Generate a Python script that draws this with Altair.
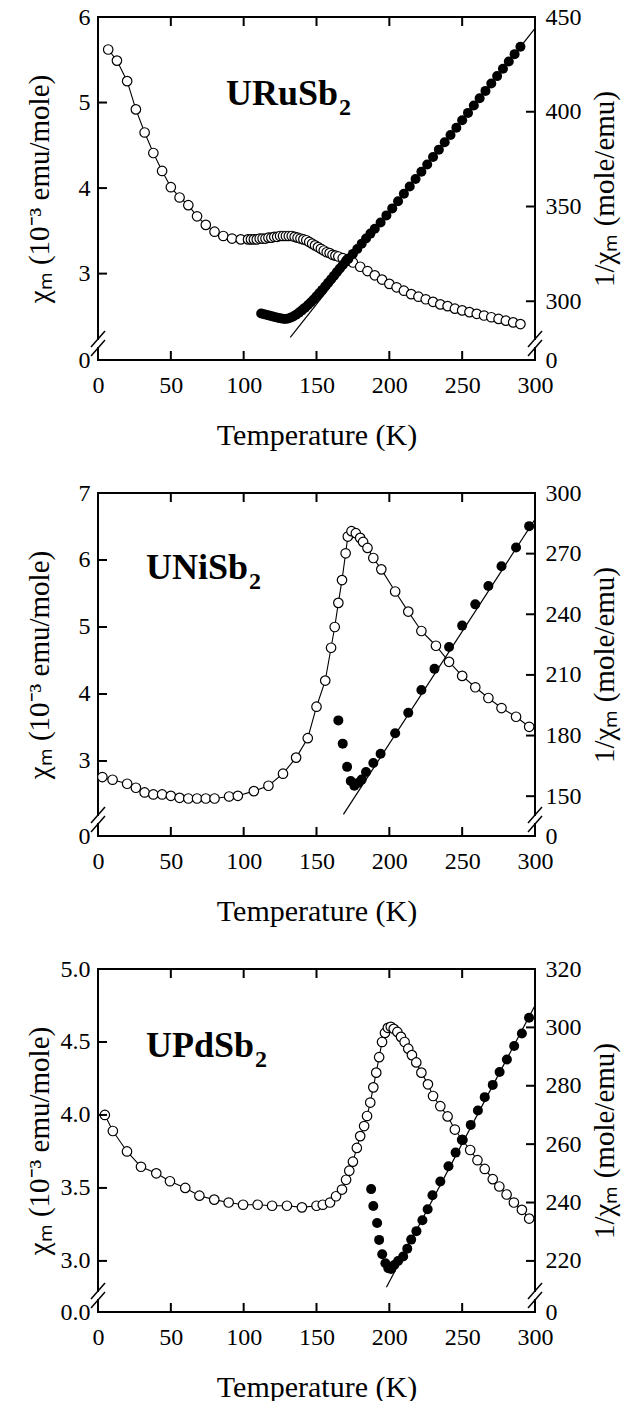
import altair as alt
import pandas as pd

W, H = 437, 343
FONT = "Liberation Serif, Times New Roman, serif"

T_TICKS = [0, 50, 100, 150, 200, 250, 300]
INNER_T = [50, 100, 150, 200, 250]

# ---------------- Panel 1: URuSb2 ----------------
p1_open_T = [7, 13, 20, 26, 32, 38, 44, 50, 56, 62, 68, 74, 80, 86, 92, 98, 103, 105, 107, 109,
             111, 113, 115, 117, 119, 121, 123, 125, 127, 129, 131, 133, 135, 137, 139, 141, 143, 145, 147, 149,
             151, 153, 155, 157, 159, 161, 163, 165, 168, 171, 175, 180, 185, 190, 195, 200, 205, 210, 215, 220,
             225, 230, 235, 240, 245, 250, 255, 260, 265, 270, 275, 280, 285, 290]
p1_open_chi = [5.62, 5.49, 5.25, 4.92, 4.65, 4.41, 4.20, 4.01, 3.89, 3.80, 3.67, 3.57, 3.49, 3.44, 3.41, 3.40, 3.40, 3.40, 3.40, 3.40,
               3.41, 3.41, 3.41, 3.42, 3.42, 3.43, 3.43, 3.44, 3.44, 3.44, 3.44, 3.44, 3.43, 3.42, 3.41, 3.40, 3.39, 3.37, 3.35, 3.33,
               3.31, 3.29, 3.27, 3.25, 3.24, 3.22, 3.21, 3.20, 3.18, 3.16, 3.13, 3.08, 3.03, 2.98, 2.93, 2.88, 2.84, 2.80, 2.76, 2.73,
               2.70, 2.67, 2.64, 2.62, 2.59, 2.57, 2.55, 2.53, 2.51, 2.49, 2.47, 2.45, 2.43, 2.41]
p1_fill_T = [112, 114, 116, 118, 120, 122, 124, 126, 128, 130, 132, 134, 136, 138, 140, 142, 144, 146, 148, 150,
             152, 154, 156, 158, 160, 162, 164, 166, 168, 170, 172, 175, 178, 181, 184, 187, 190, 194, 198, 202,
             206, 210, 214, 218, 222, 226, 230, 234, 238, 242, 246, 250, 254, 258, 262, 266, 270, 274, 278, 282, 286, 290]
p1_fill_inv = [293.5, 293.2, 292.8, 292.4, 292.0, 291.6, 291.2, 290.9, 290.7, 290.8, 291.3, 292.0, 292.9, 294.0, 295.2, 296.5, 297.9, 299.3, 300.9, 302.6,
               304.3, 306.0, 307.9, 309.8, 311.6, 313.5, 315.4, 317.3, 319.1, 320.8, 322.5, 325.0, 327.6, 330.3, 333.1, 335.7, 338.3, 341.6, 345.3, 349.0,
               352.8, 356.7, 360.6, 364.5, 368.3, 372.2, 376.1, 380.0, 383.9, 387.7, 391.6, 395.5, 399.4, 403.3, 407.1, 411.0, 414.9, 418.8, 422.7, 426.5, 430.4, 434.3]
p1_fit_T = [132, 300]
p1_fit_inv = [281, 444]
p1_left_domain = [1.99, 6]
p1_left_ticks = [3, 4, 5, 6]
p1_right_domain = [269, 450]
p1_right_ticks = [300, 350, 400, 450]

# ---------------- Panel 2: UNiSb2 ----------------
p2_open_T = [3, 10, 20, 26, 32, 38, 44, 50, 56, 62, 68, 74, 80, 90, 96, 107, 117, 127, 136, 144,
             150, 156, 160, 162.5, 165, 167.5, 170, 171.5, 174, 177, 180, 182, 185, 189, 194.5, 204, 213, 222, 232, 241,
             250, 259, 268, 277, 287, 296]
p2_open_chi = [2.76, 2.72, 2.66, 2.60, 2.53, 2.50, 2.50, 2.48, 2.45, 2.44, 2.44, 2.44, 2.44, 2.47, 2.48, 2.55, 2.63, 2.81, 3.05, 3.34,
               3.81, 4.20, 4.69, 5.00, 5.36, 5.70, 6.10, 6.35, 6.43, 6.40, 6.33, 6.27, 6.18, 6.03, 5.86, 5.53, 5.23, 4.94, 4.72, 4.48,
               4.27, 4.10, 3.94, 3.79, 3.66, 3.51]
p2_fill_T = [165, 168, 171, 173.5, 176, 178.5, 181, 184, 189, 194, 204, 213, 222, 231, 241, 250, 259, 268, 277, 287, 296]
p2_fill_inv = [187.5, 176.0, 164.5, 157.5, 155.2, 156.5, 158.2, 162.0, 166.4, 171.0, 181.1, 191.3, 202.5, 213.0, 223.8, 234.4, 244.9, 254.0, 263.8, 273.0, 283.6]
p2_fit_T = [168.5, 300]
p2_fit_inv = [141, 287]
p2_left_domain = [1.88, 7]
p2_left_ticks = [3, 4, 5, 6, 7]
p2_right_domain = [130.3, 300]
p2_right_ticks = [150, 180, 210, 240, 270, 300]

# ---------------- Panel 3: UPdSb2 ----------------
p3_open_T = [4.7, 10.2, 19.9, 29.5, 40, 49.4, 59.9, 69.6, 79.8, 89.7, 99.6, 109.6, 119.5, 129.7, 140, 150, 154.3, 159.3, 163.4, 167.5,
             170.3, 172.5, 175, 177.7, 180, 182.7, 184.7, 186.9, 189, 191, 193, 195, 197, 199, 201, 203, 205.5, 208, 210.5, 213,
             215.5, 218.5, 222, 226.5, 230, 235, 240, 245, 250, 255.5, 260.5, 265.5, 271, 275.5, 280.5, 285.5, 291, 296]
p3_open_chi = [4.00, 3.89, 3.75, 3.645, 3.60, 3.546, 3.50, 3.447, 3.42, 3.40, 3.385, 3.385, 3.378, 3.378, 3.367, 3.378, 3.385, 3.40, 3.443, 3.489,
               3.556, 3.618, 3.68, 3.774, 3.855, 3.924, 3.993, 4.085, 4.189, 4.29, 4.396, 4.50, 4.562, 4.597, 4.604, 4.59, 4.569, 4.535, 4.50, 4.454,
               4.41, 4.36, 4.29, 4.21, 4.13, 4.06, 3.99, 3.90, 3.83, 3.76, 3.69, 3.63, 3.56, 3.51, 3.455, 3.40, 3.35, 3.29]
p3_fill_T = [187.5, 189, 191.6, 193, 195.1, 197.3, 199.3, 201.2, 203.4, 206, 209.5, 212.3, 215, 218.6, 222.7, 226.3, 229.6, 235, 240.6, 245.5,
             250.3, 255.9, 260.8, 265.5, 271, 275.7, 280.7, 285.7, 291, 295.9]
p3_fill_inv = [244.6, 238.8, 233.0, 227.2, 222.3, 219.2, 217.5, 217.2, 218.6, 220.0, 221.5, 224.2, 227.3, 230.2, 233.9, 237.7, 242.5, 247.2, 252.4, 257.1,
               261.4, 266.6, 271.5, 276.1, 280.3, 284.7, 289.0, 293.6, 297.9, 303.3]
p3_fit_T = [198, 300]
p3_fit_inv = [211, 307.5]
p3_left_domain = [2.65, 5.0]
p3_left_ticks = [3.0, 3.5, 4.0, 4.5, 5.0]
p3_right_domain = [202.5, 320]
p3_right_ticks = [220, 240, 260, 280, 300, 320]

LEFT_TITLE = "χₘ (10⁻³ emu/mole)"
RIGHT_TITLE = "1/χₘ (mole/emu)"


def panel(name, name_x, name_y, oT, oC, fT, fI, fitT, fitI,
          ldom, lticks, lfmt, lzero, rdom, rticks):
    xs = alt.Scale(domain=[0, 300], nice=False, zero=False)
    xax = alt.Axis(values=T_TICKS, title="Temperature (K)", domain=False, ticks=False, grid=False,
                   labelFont=FONT, labelFontSize=24, labelColor="black", labelPadding=13,
                   labelFlush=False, labelOverlap=False,
                   titleFont=FONT, titleFontSize=30, titleFontWeight="normal", titleColor="black",
                   titleY=75, titleBaseline="middle")
    lthr = (ldom[0] + lticks[0]) / 2
    lax = alt.Axis(values=[ldom[0]] + lticks,
                   labelExpr=f"datum.value < {lthr} ? '{lzero}' : format(datum.value, '{lfmt}')",
                   domain=False, ticks=False, grid=False,
                   labelFont=FONT, labelFontSize=24, labelColor="black", labelPadding=8,
                   labelFlush=False, labelOverlap=False, labelBound=False,
                   title=LEFT_TITLE, titleFont=FONT, titleFontSize=29, titleFontWeight="normal",
                   titleColor="black", titleX=-59, titleY=H / 2, titleAngle=-90,
                   titleAlign="center", titleBaseline="middle")
    rthr = (rdom[0] + rticks[0]) / 2
    rax = alt.Axis(orient="right", values=[rdom[0]] + rticks,
                   labelExpr=f"datum.value < {rthr} ? '0' : format(datum.value, 'd')",
                   domain=False, ticks=False, grid=False,
                   labelFont=FONT, labelFontSize=24, labelColor="black", labelPadding=10,
                   labelFlush=False, labelOverlap=False, labelBound=False,
                   title=RIGHT_TITLE, titleFont=FONT, titleFontSize=29, titleFontWeight="normal",
                   titleColor="black", titleX=69, titleY=H / 2, titleAngle=-90,
                   titleAlign="center", titleBaseline="middle")
    ls = alt.Scale(domain=ldom, nice=False, zero=False)
    rs = alt.Scale(domain=rdom, nice=False, zero=False)
    X = alt.X("T:Q", scale=xs, axis=xax)
    YL = alt.Y("C:Q", scale=ls, axis=lax)
    YR = alt.Y("I:Q", scale=rs, axis=rax)

    df_open = pd.DataFrame({"T": oT, "C": oC})
    df_fill = pd.DataFrame({"T": fT, "I": fI})
    df_fit = pd.DataFrame({"T": fitT, "I": fitI})
    df_xt = pd.DataFrame({"T": INNER_T})
    df_lt = pd.DataFrame({"C": lticks})
    df_rt = pd.DataFrame({"I": rticks})
    one = pd.DataFrame({"k": [0]})

    open_line = alt.Chart(df_open).mark_line(color="black", strokeWidth=1.1).encode(x=X, y=YL)
    open_pts = alt.Chart(df_open).mark_point(shape="circle", filled=True, fill="white", stroke="black",
                                             strokeWidth=1.2, size=90, opacity=1).encode(x=X, y=YL)
    xt_bot = alt.Chart(df_xt).mark_rule(color="black", strokeWidth=2).encode(
        x=X, y=alt.value(H), y2=alt.value(H - 9))
    xt_top = alt.Chart(df_xt).mark_rule(color="black", strokeWidth=2).encode(
        x=X, y=alt.value(0), y2=alt.value(9))
    lt = alt.Chart(df_lt).mark_rule(color="black", strokeWidth=2).encode(
        y=YL, x=alt.value(0), x2=alt.value(9))

    layers_break = []
    for bx in (0, W):
        layers_break.append(alt.Chart(one).mark_rule(color="white", strokeWidth=6).encode(
            x=alt.value(bx), y=alt.value(H - 20), y2=alt.value(H - 13)))
        for cy in (H - 21, H - 12):
            layers_break.append(alt.Chart(one).mark_rule(color="black", strokeWidth=1.5).encode(
                x=alt.value(bx - 7), x2=alt.value(bx + 7), y=alt.value(cy + 8), y2=alt.value(cy - 8)))

    name_main = alt.Chart(one).mark_text(text=name, font=FONT, fontSize=36, fontWeight="bold",
                                         align="right", baseline="alphabetic", color="black").encode(
        x=alt.value(name_x), y=alt.value(name_y))
    name_sub = alt.Chart(one).mark_text(text="2", font=FONT, fontSize=24, fontWeight="bold",
                                        align="left", baseline="alphabetic", color="black").encode(
        x=alt.value(name_x + 1), y=alt.value(name_y + 10))

    left = alt.layer(open_line, open_pts, xt_bot, xt_top, lt, *layers_break, name_main, name_sub)

    fit_line = alt.Chart(df_fit).mark_line(color="black", strokeWidth=1.2).encode(x=X, y=YR)
    fill_pts = alt.Chart(df_fill).mark_circle(color="black", size=100, opacity=1).encode(x=X, y=YR)
    rt = alt.Chart(df_rt).mark_rule(color="black", strokeWidth=2).encode(
        y=YR, x=alt.value(W), x2=alt.value(W - 9))
    right = alt.layer(fit_line, fill_pts, rt)

    return alt.layer(left, right).resolve_scale(y="independent").properties(width=W, height=H)


p1 = panel("URuSb", 240, 88, p1_open_T, p1_open_chi, p1_fill_T, p1_fill_inv, p1_fit_T, p1_fit_inv,
           p1_left_domain, p1_left_ticks, "d", "0", p1_right_domain, p1_right_ticks)
p2 = panel("UNiSb", 150, 86, p2_open_T, p2_open_chi, p2_fill_T, p2_fill_inv, p2_fit_T, p2_fit_inv,
           p2_left_domain, p2_left_ticks, "d", "0", p2_right_domain, p2_right_ticks)
p3 = panel("UPdSb", 156, 88, p3_open_T, p3_open_chi, p3_fill_T, p3_fill_inv, p3_fit_T, p3_fit_inv,
           p3_left_domain, p3_left_ticks, ".1f", "0.0", p3_right_domain, p3_right_ticks)

chart = alt.vconcat(p1, p2, p3, spacing=133, bounds="flush").properties(
    padding={"left": 24, "top": 4, "right": 2, "bottom": 0},
    background="white",
).configure_view(stroke="black", strokeWidth=2)

chart.save("out.html", embed_options={"renderer": "svg", "actions": False})
